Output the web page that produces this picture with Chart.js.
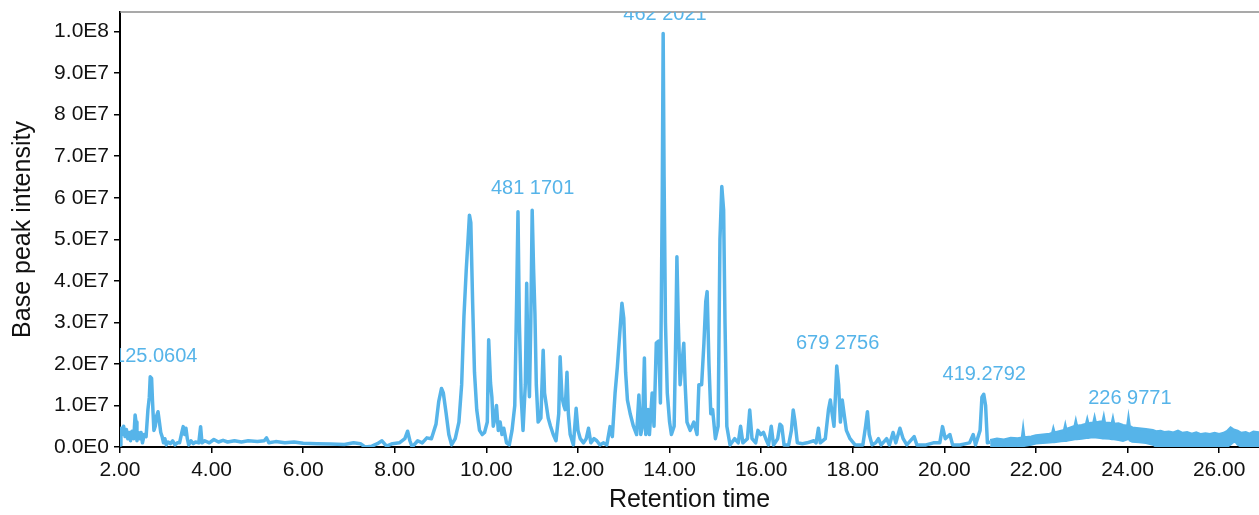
<!DOCTYPE html>
<html>
<head>
<meta charset="utf-8">
<title>Base peak chromatogram</title>
<script src="https://cdn.jsdelivr.net/npm/chart.js@4.4.1/dist/chart.umd.min.js"></script>
<style>
    html, body { margin: 0; padding: 0; background: #ffffff; }
    #wrap { width: 1259px; height: 515px; position: relative; }
</style>
</head>
<body>
<div id="wrap"><canvas id="bpiChart"></canvas></div>
<script>
// ======================================================
// DATA (intensity in units of 1E7)
// ======================================================
const rtMain = [
    2.00, 2.02, 2.05, 2.08, 2.11, 2.14, 2.17, 2.20, 2.23, 2.26, 2.30, 2.33, 2.35, 2.37, 2.40, 2.43, 2.46, 2.49, 2.53, 2.57,
    2.61, 2.64, 2.66, 2.69, 2.71, 2.74, 2.77, 2.80, 2.83, 2.86, 2.89, 2.92, 2.95, 2.98, 3.01, 3.05, 3.10, 3.15, 3.20, 3.25,
    3.30, 3.35, 3.38, 3.41, 3.44, 3.47, 3.50, 3.55, 3.60, 3.65, 3.72, 3.76, 3.79, 3.85, 3.95, 4.05, 4.15, 4.25, 4.35, 4.50,
    4.65, 4.80, 5.00, 5.15, 5.20, 5.25, 5.40, 5.60, 5.80, 6.00, 6.30, 6.60, 6.90, 7.10, 7.25, 7.35, 7.50, 7.62, 7.72, 7.82,
    7.95, 8.10, 8.22, 8.28, 8.33, 8.38, 8.50, 8.60, 8.70, 8.80, 8.90, 8.96, 9.02, 9.06, 9.12, 9.18, 9.24, 9.32, 9.40, 9.46,
    9.51, 9.56, 9.60, 9.63, 9.66, 9.70, 9.74, 9.79, 9.85, 9.91, 9.96, 10.02, 10.05, 10.09, 10.12, 10.15, 10.19, 10.22, 10.26, 10.30,
    10.34, 10.38, 10.44, 10.50, 10.56, 10.62, 10.66, 10.69, 10.72, 10.76, 10.80, 10.85, 10.88, 10.91, 10.94, 10.97, 11.00, 11.03, 11.06, 11.09,
    11.13, 11.19, 11.24, 11.27, 11.31, 11.35, 11.40, 11.46, 11.52, 11.58, 11.61, 11.65, 11.69, 11.72, 11.76, 11.79, 11.83, 11.90, 11.96, 12.00,
    12.05, 12.12, 12.18, 12.23, 12.28, 12.35, 12.41, 12.48, 12.56, 12.63, 12.70, 12.75, 12.81, 12.86, 12.91, 12.96, 13.00, 13.04, 13.08, 13.14,
    13.21, 13.28, 13.33, 13.37, 13.41, 13.45, 13.48, 13.53, 13.56, 13.62, 13.66, 13.71, 13.76, 13.80, 13.84, 13.86, 13.88, 13.91, 13.95, 14.00,
    14.04, 14.10, 14.14, 14.16, 14.19, 14.23, 14.27, 14.31, 14.34, 14.38, 14.45, 14.53, 14.60, 14.64, 14.70, 14.75, 14.79, 14.82, 14.86, 14.90,
    14.94, 15.00, 15.06, 15.10, 15.14, 15.18, 15.21, 15.25, 15.32, 15.42, 15.50, 15.55, 15.60, 15.70, 15.75, 15.80, 15.88, 15.93, 15.99, 16.05,
    16.10, 16.16, 16.22, 16.27, 16.36, 16.41, 16.45, 16.50, 16.60, 16.66, 16.70, 16.74, 16.79, 16.90, 17.00, 17.15, 17.20, 17.25, 17.29, 17.40,
    17.47, 17.51, 17.55, 17.59, 17.62, 17.65, 17.69, 17.73, 17.77, 17.81, 17.86, 17.94, 18.05, 18.22, 18.28, 18.32, 18.36, 18.42, 18.50, 18.56,
    18.62, 18.74, 18.80, 18.88, 18.94, 19.03, 19.10, 19.18, 19.34, 19.40, 19.60, 19.76, 19.90, 19.96, 20.02, 20.12, 20.18, 20.34, 20.55, 20.63,
    20.68, 20.78, 20.82, 20.86, 20.90, 20.94, 21.00
];

const bpiMain = [
    0.05, 0.45, 0.30, 0.50, 0.25, 0.42, 0.20, 0.35, 0.15, 0.38, 0.20, 0.77, 0.60, 0.15, 0.35, 0.20, 0.35, 0.10, 0.30, 0.25,
    0.90, 1.20, 1.69, 1.65, 1.10, 0.40, 0.50, 0.75, 0.85, 0.60, 0.35, 0.25, 0.10, 0.20, 0.05, 0.12, 0.08, 0.15, 0.05, 0.10,
    0.10, 0.35, 0.49, 0.30, 0.45, 0.20, 0.05, 0.15, 0.08, 0.12, 0.10, 0.49, 0.10, 0.15, 0.10, 0.18, 0.12, 0.16, 0.12, 0.15,
    0.12, 0.15, 0.13, 0.15, 0.22, 0.10, 0.13, 0.10, 0.12, 0.09, 0.08, 0.07, 0.06, 0.10, 0.08, 0.00, 0.02, 0.08, 0.15, 0.02,
    0.08, 0.10, 0.20, 0.38, 0.15, 0.00, 0.15, 0.10, 0.22, 0.20, 0.55, 1.10, 1.41, 1.30, 0.82, 0.30, 0.05, 0.20, 0.60, 1.50,
    3.14, 4.26, 5.00, 5.58, 5.40, 3.46, 1.80, 0.89, 0.40, 0.30, 0.35, 0.60, 2.58, 1.54, 1.20, 0.50, 0.70, 1.00, 0.40, 0.60,
    0.30, 0.45, 0.10, 0.05, 0.40, 1.00, 3.50, 5.66, 3.00, 1.20, 0.40, 1.50, 3.94, 2.00, 1.21, 3.00, 5.70, 4.30, 3.20, 1.50,
    0.60, 0.70, 2.33, 1.30, 1.00, 0.70, 0.50, 0.30, 0.15, 0.80, 2.17, 1.20, 1.00, 0.90, 1.80, 0.80, 0.30, 0.05, 0.93, 0.40,
    0.20, 0.10, 0.20, 0.45, 0.10, 0.20, 0.15, 0.05, 0.10, 0.05, 0.49, 0.25, 1.30, 1.93, 2.70, 3.46, 3.10, 1.80, 1.13, 0.80,
    0.50, 0.30, 1.25, 0.30, 0.50, 2.14, 0.30, 0.90, 0.30, 1.30, 0.50, 2.50, 2.55, 1.06, 6.00, 9.95, 6.50, 3.00, 1.30, 0.60,
    0.30, 0.50, 3.00, 4.58, 3.00, 1.50, 2.00, 2.50, 1.50, 0.60, 0.40, 0.60, 0.30, 1.50, 1.50, 2.50, 3.50, 3.74, 2.00, 0.80,
    0.90, 0.20, 0.50, 5.00, 6.27, 5.70, 3.00, 0.50, 0.05, 0.20, 0.10, 0.50, 0.10, 0.20, 0.89, 0.20, 0.10, 0.40, 0.30, 0.35,
    0.20, 0.05, 0.50, 0.05, 0.20, 0.55, 0.50, 0.05, 0.05, 0.40, 0.89, 0.60, 0.10, 0.08, 0.10, 0.15, 0.10, 0.45, 0.10, 0.20,
    0.90, 1.13, 0.80, 0.50, 1.20, 1.95, 1.50, 0.60, 1.13, 0.80, 0.40, 0.20, 0.05, 0.05, 0.50, 0.85, 0.30, 0.05, 0.10, 0.20,
    0.05, 0.20, 0.05, 0.35, 0.10, 0.45, 0.20, 0.05, 0.25, 0.05, 0.05, 0.10, 0.10, 0.49, 0.20, 0.30, 0.05, 0.05, 0.10, 0.30,
    0.05, 0.40, 1.20, 1.27, 1.00, 0.10, 0.12
];

// late, noisy part of the run drawn as an envelope band
const rtBand = [
    21.00, 21.15, 21.30, 21.45, 21.60, 21.70, 21.72, 21.74, 21.90, 22.00, 22.15, 22.30, 22.36, 22.38, 22.40, 22.55, 22.62, 22.64, 22.66, 22.70,
    22.80, 22.85, 22.87, 22.89, 23.00, 23.10, 23.12, 23.14, 23.20, 23.26, 23.28, 23.30, 23.40, 23.46, 23.48, 23.50, 23.60, 23.66, 23.68, 23.70,
    23.80, 23.90, 24.00, 24.02, 24.04, 24.10, 24.25, 24.40, 24.55, 24.62, 24.72, 24.80, 24.90, 25.00, 25.10, 25.20, 25.30, 25.40, 25.50, 25.60,
    25.70, 25.80, 25.90, 26.00, 26.10, 26.18, 26.25, 26.30, 26.35, 26.40, 26.48, 26.58, 26.66, 26.75, 26.87
];
const bandTop = [
    0.16, 0.19, 0.17, 0.21, 0.20, 0.22, 0.40, 0.22, 0.24, 0.27, 0.29, 0.31, 0.33, 0.42, 0.34, 0.38, 0.40, 0.50, 0.40, 0.44,
    0.48, 0.50, 0.60, 0.50, 0.52, 0.55, 0.64, 0.55, 0.57, 0.58, 0.68, 0.58, 0.60, 0.60, 0.70, 0.58, 0.57, 0.56, 0.66, 0.55,
    0.56, 0.52, 0.50, 0.66, 0.50, 0.46, 0.44, 0.42, 0.40, 0.37, 0.38, 0.35, 0.36, 0.34, 0.38, 0.33, 0.35, 0.31, 0.34, 0.30,
    0.32, 0.30, 0.33, 0.30, 0.33, 0.38, 0.46, 0.42, 0.40, 0.38, 0.33, 0.35, 0.31, 0.36, 0.34
];
const bandBottom = [
    0.00, 0.02, 0.00, 0.02, 0.00, 0.00, 0.00, 0.02, 0.05, 0.08, 0.09, 0.10, 0.11, 0.11, 0.11, 0.13, 0.14, 0.14, 0.14, 0.15,
    0.17, 0.18, 0.18, 0.18, 0.19, 0.21, 0.21, 0.21, 0.22, 0.22, 0.22, 0.22, 0.21, 0.20, 0.20, 0.20, 0.19, 0.18, 0.18, 0.18,
    0.16, 0.14, 0.18, 0.20, 0.15, 0.12, 0.11, 0.09, 0.05, 0.00, 0.00, 0.00, 0.00, 0.00, 0.00, 0.00, 0.00, 0.00, 0.00, 0.00,
    0.00, 0.00, 0.00, 0.00, 0.00, 0.00, 0.05, 0.10, 0.12, 0.05, 0.00, 0.00, 0.00, 0.00, 0.00
];

// peak annotations (m/z), placed at retention time / intensity level
const peakLabels = ["125.0604", "481 1701", "462 2021", "679 2756", "419.2792", "226 9771"];
const peakLabelRt = [2.78, 11.01, 13.90, 17.67, 20.87, 24.05];
const peakLabelLevel = [2.05, 6.09, 10.28, 2.35, 1.61, 1.03];

// axis ticks
const yTickLabels = ["0.0E0", "1.0E7", "2.0E7", "3.0E7", "4.0E7", "5.0E7", "6 0E7", "7.0E7", "8 0E7", "9.0E7", "1.0E8"];
const xTickLabels = ["2.00", "4.00", "6.00", "8.00", "10.00", "12.00", "14.00", "16.00", "18.00", "20.00", "22.00", "24.00", "26.00"];

const BLUE = "#56b4e9";
const FONT = "'Liberation Sans', Arial, sans-serif";

// ======================================================
// PLUGIN: top frame line + peak labels (clipped to plot)
// ======================================================
const framePlugin = {
    id: "frameAndLabels",
    afterDatasetsDraw(chart) {
        const { ctx, chartArea } = chart;
        const xs = chart.scales.x;
        const ys = chart.scales.y;

        ctx.save();
        ctx.strokeStyle = "#8c8c8c";
        ctx.lineWidth = 1.5;
        ctx.beginPath();
        ctx.moveTo(chartArea.left, chartArea.top);
        ctx.lineTo(chartArea.right, chartArea.top);
        ctx.stroke();
        ctx.restore();

        ctx.save();
        ctx.beginPath();
        ctx.rect(chartArea.left, chartArea.top, chartArea.right - chartArea.left, chartArea.bottom - chartArea.top);
        ctx.clip();
        ctx.fillStyle = BLUE;
        ctx.font = `20px ${FONT}`;
        ctx.textAlign = "center";
        ctx.textBaseline = "alphabetic";
        peakLabels.forEach((txt, i) => {
            ctx.fillText(txt, xs.getPixelForValue(peakLabelRt[i]), ys.getPixelForValue(peakLabelLevel[i]));
        });
        ctx.restore();
    }
};

// ======================================================
// CHART
// ======================================================
new Chart(document.getElementById("bpiChart"), {
    type: "scatter",
    data: {
        datasets: [
            {
                data: rtMain.map((t, i) => ({ x: t, y: bpiMain[i] })),
                showLine: true,
                borderColor: BLUE,
                borderWidth: 3.5,
                borderJoinStyle: "round",
                pointRadius: 0,
                tension: 0,
                fill: false
            },
            {
                data: rtBand.map((t, i) => ({ x: t, y: bandTop[i] })),
                showLine: true,
                borderColor: BLUE,
                backgroundColor: BLUE,
                borderWidth: 3,
                pointRadius: 0,
                tension: 0,
                fill: "+1"
            },
            {
                data: rtBand.map((t, i) => ({ x: t, y: bandBottom[i] })),
                showLine: true,
                borderColor: BLUE,
                borderWidth: 1.5,
                pointRadius: 0,
                tension: 0,
                fill: false
            }
        ]
    },
    options: {
        responsive: true,
        maintainAspectRatio: false,
        animation: false,
        layout: { padding: { top: 12, right: 0, left: 0, bottom: 0 } },
        plugins: {
            legend: { display: false },
            tooltip: { enabled: false }
        },
        scales: {
            x: {
                type: "linear",
                min: 2,
                max: 26.87,
                z: 1,
                afterFit: (scale) => {
                    scale.height = 68;
                    scale.paddingLeft = 0;
                    scale.paddingRight = 0;
                },
                border: { color: "#000000", width: 2 },
                grid: { drawOnChartArea: false, tickLength: 6, color: "#000000", lineWidth: 1.5 },
                ticks: {
                    stepSize: 2,
                    includeBounds: false,
                    maxRotation: 0,
                    autoSkip: false,
                    padding: 5,
                    color: "#111111",
                    font: { family: FONT, size: 21 },
                    callback: (v) => xTickLabels[Math.round((v - 2) / 2)]
                },
                title: {
                    display: true,
                    text: "Retention time",
                    color: "#111111",
                    font: { family: FONT, size: 25 },
                    padding: { top: 0, bottom: 0 }
                }
            },
            y: {
                min: 0,
                max: 10.47,
                z: 1,
                afterFit: (scale) => {
                    scale.width = 120;
                    scale.paddingTop = 0;
                    scale.paddingBottom = 0;
                },
                border: { color: "#000000", width: 2 },
                grid: { drawOnChartArea: false, tickLength: 6, color: "#000000", lineWidth: 1.5 },
                ticks: {
                    stepSize: 1,
                    includeBounds: false,
                    padding: 5,
                    color: "#111111",
                    font: { family: FONT, size: 21 },
                    callback: (v) => yTickLabels[Math.round(v)]
                },
                title: {
                    display: true,
                    text: "Base peak intensity",
                    color: "#111111",
                    font: { family: FONT, size: 25 },
                    padding: { top: 8, bottom: 0 }
                }
            }
        }
    },
    plugins: [framePlugin]
});
</script>
</body>
</html>
